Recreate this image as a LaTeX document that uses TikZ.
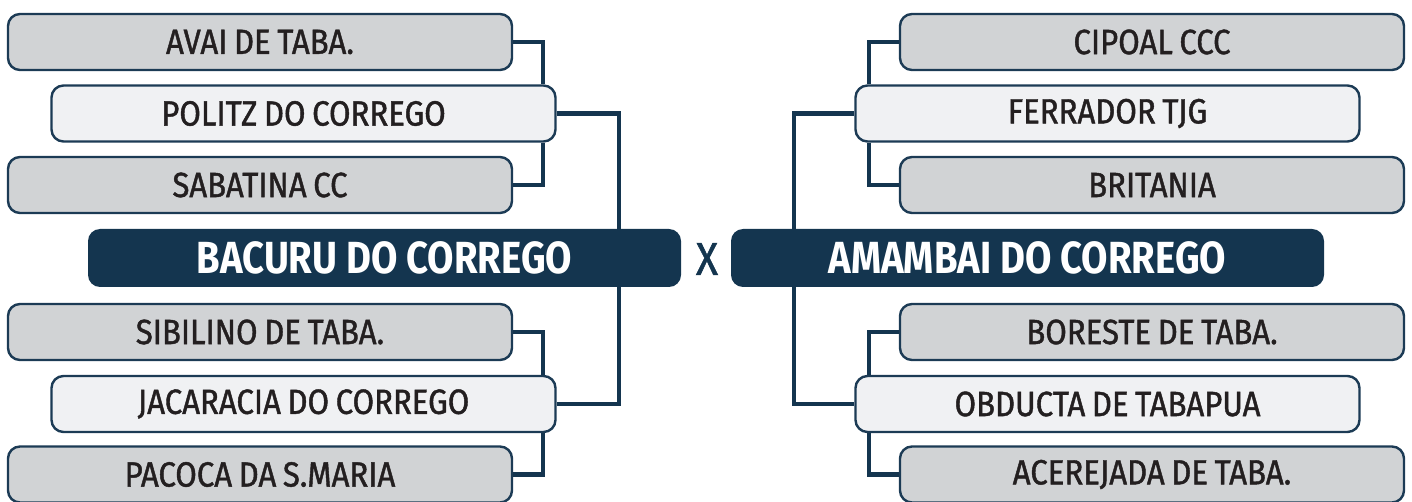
\documentclass[tikz,border=0pt]{standalone}
\usepackage{fontspec}
\newfontfamily\cond[FakeStretch=0.89, FakeBold=1.2, WordSpace=0.8]{Fira Sans}
\newfontfamily\condb[FakeStretch=0.85]{Fira Sans}
\definecolor{navy}{HTML}{14354F}
\definecolor{edge}{HTML}{1C3B55}
\definecolor{grayfill}{HTML}{D1D3D5}
\definecolor{lightfill}{HTML}{F0F1F3}
\definecolor{txt}{HTML}{231F20}
\tikzset{
  team/.style={draw=edge, line width=2.4pt, rounded corners=12pt, minimum width=504pt,
    minimum height=56pt, inner sep=0pt, text=txt,
    font=\cond\fontsize{35}{35}\selectfont},
  outer/.style={team, fill=grayfill},
  inner/.style={team, fill=lightfill},
  final/.style={fill=navy, rounded corners=12pt, minimum width=593pt, minimum height=58pt,
    inner sep=0pt, text=white, font=\condb\bfseries\fontsize{45}{45}\selectfont},
  conn/.style={draw=navy, line width=4.5pt, line join=miter}
}
\begin{document}
\begin{tikzpicture}[x=1pt,y=-1pt]
\useasboundingbox (0,0) rectangle (1412,502);
\coordinate (b1) at (543,0);
\coordinate (c1) at (619,0);
\coordinate (b2) at (869,0);
\coordinate (c2) at (794,0);
% nodes
\node[outer] (avai) at (260,42) {AVAI DE TABA.};
\node[inner] (politz) at (303.5,113.5) {POLITZ DO CORREGO};
\node[outer] (sabatina) at (260,185) {SABATINA CC};
\node[outer] (sibilino) at (260,332) {SIBILINO DE TABA.};
\node[inner] (jacaracia) at (303.5,404) {JACARACIA DO CORREGO};
\node[outer] (pacoca) at (260,474.5) {PACOCA DA S.MARIA};
\node[outer] (cipoal) at (1152,42) {CIPOAL CCC};
\node[inner] (ferrador) at (1107.5,113.5) {FERRADOR TJG};
\node[outer] (britania) at (1152,185) {BRITANIA};
\node[outer] (boreste) at (1152,332) {BORESTE DE TABA.};
\node[inner] (obducta) at (1107.5,404) {OBDUCTA DE TABAPUA};
\node[outer] (acerejada) at (1152,474.5) {ACEREJADA DE TABA.};
\node[final] (bacuru) at (384.5,258) {BACURU DO CORREGO};
\node[final] (amambai) at (1027.5,258) {AMAMBAI DO CORREGO};
\node[text=navy, font=\cond\fontsize{46}{46}\selectfont, inner sep=0pt] (x) at (707,259) {X};
% connectors
\draw[conn] (avai.east) -| (b1 |- politz.north);
\draw[conn] (b1 |- politz.south) |- (sabatina.east);
\draw[conn] (sibilino.east) -| (b1 |- jacaracia.north);
\draw[conn] (b1 |- jacaracia.south) |- (pacoca.east);
\draw[conn] (politz.east) -| (c1 |- bacuru.north);
\draw[conn] (c1 |- bacuru.south) |- (jacaracia.east);
\draw[conn] (cipoal.west) -| (b2 |- ferrador.north);
\draw[conn] (b2 |- ferrador.south) |- (britania.west);
\draw[conn] (boreste.west) -| (b2 |- obducta.north);
\draw[conn] (b2 |- obducta.south) |- (acerejada.west);
\draw[conn] (ferrador.west) -| (c2 |- amambai.north);
\draw[conn] (c2 |- amambai.south) |- (obducta.west);
\end{tikzpicture}
\end{document}
